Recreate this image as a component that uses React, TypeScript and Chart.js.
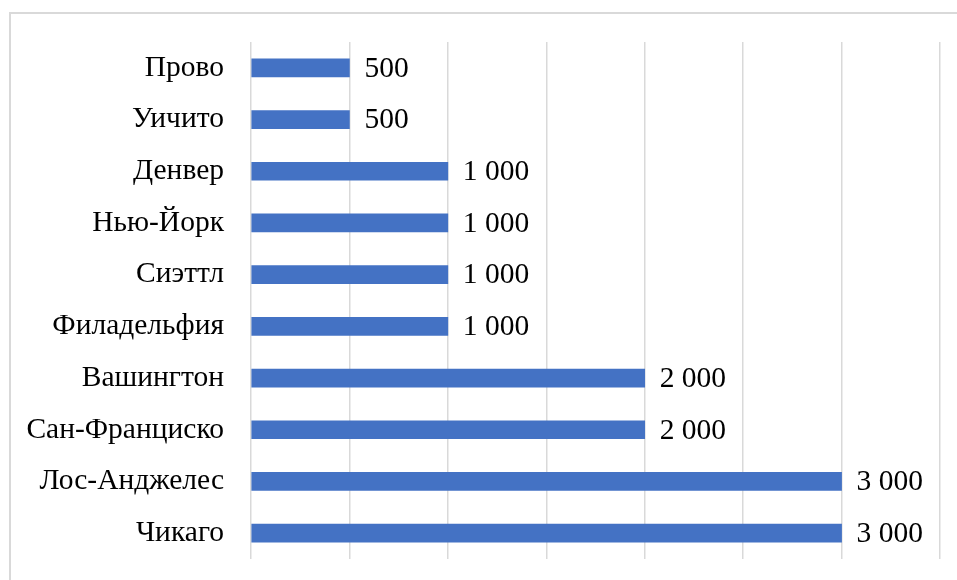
import React, { useEffect, useRef } from "react";
import { Chart, registerables } from "chart.js";

Chart.register(...registerables);

const categories = [
  "Прово",
  "Уичито",
  "Денвер",
  "Нью-Йорк",
  "Сиэттл",
  "Филадельфия",
  "Вашингтон",
  "Сан-Франциско",
  "Лос-Анджелес",
  "Чикаго",
];
const values = [500, 500, 1000, 1000, 1000, 1000, 2000, 2000, 3000, 3000];
const axisMin = 0;
const axisMax = 3500;
const axisStep = 500;

const FONT = "'Liberation Serif', 'Times New Roman', serif";
const FONT_SIZE = 29.5;

function fmt(v: number): string {
  return String(v).replace(/\B(?=(\d{3})+(?!\d))/g, " ");
}

const valueLabels = {
  id: "valueLabels",
  afterDatasetsDraw(chart: any) {
    const ctx = chart.ctx;
    const meta = chart.getDatasetMeta(0);
    ctx.save();
    ctx.font = `${FONT_SIZE}px ${FONT}`;
    ctx.fillStyle = "#000000";
    ctx.textAlign = "left";
    ctx.textBaseline = "middle";
    meta.data.forEach((bar: any, i: number) => {
      ctx.fillText(fmt(values[i]), bar.x + 15, bar.y + 1);
    });
    ctx.restore();
  },
};

export default function App() {
  const ref = useRef<HTMLCanvasElement>(null);
  useEffect(() => {
    if (!ref.current) return;
    const chart = new Chart(ref.current, {
      type: "bar",
      data: {
        labels: categories,
        datasets: [
          {
            data: values,
            backgroundColor: "#4472c4",
            barThickness: 18,
          },
        ],
      },
      options: {
        indexAxis: "y",
        animation: false,
        responsive: false,
        maintainAspectRatio: false,
        layout: { padding: { top: 42, right: 17, left: 0, bottom: 0 } },
        plugins: {
          legend: { display: false },
          tooltip: { enabled: false },
        },
        scales: {
          x: {
            min: axisMin,
            max: axisMax,
            ticks: { display: false, stepSize: axisStep },
            grid: { color: "#d9d9d9", lineWidth: 1.5, drawTicks: false },
            border: { display: false },
            afterFit: (s: any) => {
              s.height = 21;
            },
          },
          y: {
            ticks: {
              color: "#000000",
              font: { family: FONT, size: FONT_SIZE },
              padding: 0,
            },
            grid: { display: false, drawTicks: true, tickLength: 27 },
            border: { display: false },
            afterFit: (s: any) => {
              s.width = 251;
            },
          },
        },
      },
      plugins: [valueLabels],
    });
    return () => chart.destroy();
  }, []);
  return (
    <div
      style={{
        position: "absolute",
        left: 0,
        top: 0,
        width: 957,
        height: 580,
        overflow: "hidden",
        background: "#ffffff",
      }}
    >
      <div
        style={{
          position: "absolute",
          left: 9,
          top: 12,
          width: 1100,
          height: 1100,
          border: "2px solid #d9d9d9",
        }}
      />
      <canvas
        ref={ref}
        width={957}
        height={580}
        style={{ position: "absolute", left: 0, top: 0, width: 957, height: 580 }}
      />
    </div>
  );
}
